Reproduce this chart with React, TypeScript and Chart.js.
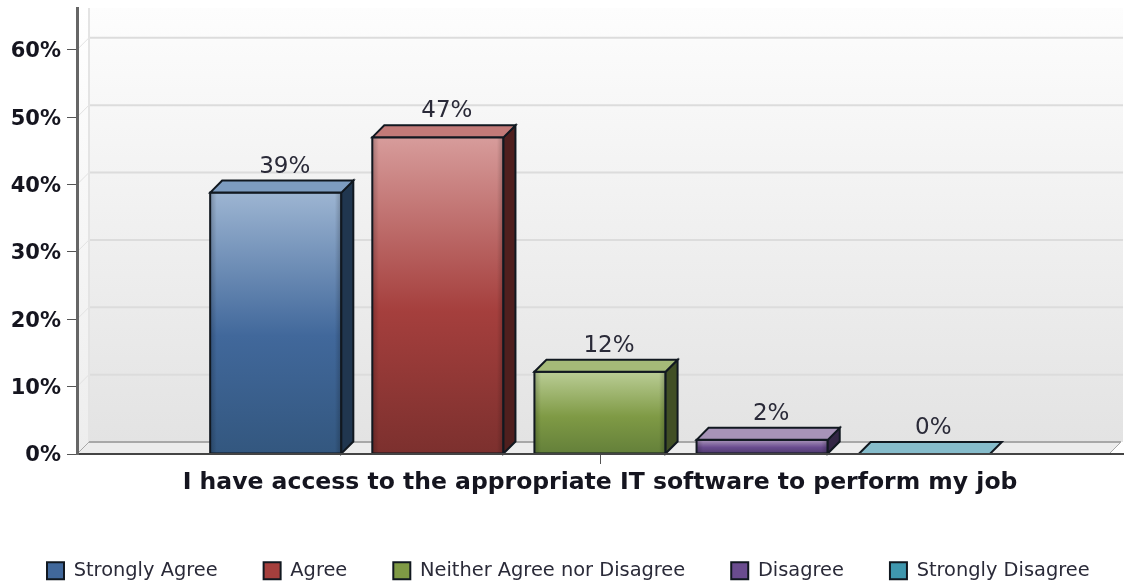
import React, { useEffect, useRef } from "react";
import { Chart, registerables } from "chart.js";

Chart.register(...registerables);

const categories = ["I have access to the appropriate IT software to perform my job"];
const seriesNames = ["Strongly Agree", "Agree", "Neither Agree nor Disagree", "Disagree", "Strongly Disagree"];
const seriesValues = [38.8, 47, 12.2, 2.1, 0];
const shownLabels = ["39%", "47%", "12%", "2%", "0%"];
const yTicksMax = 66.2;
const baseColors = ["#41689b", "#a53f3d", "#7f9a45", "#6a4c8f", "#3f97ae"];
const topColors = ["#9db5d2", "#d79c9b", "#bacd95", "#ab96bb", "#88bccb"];
const lidColors = ["#7d9cc0", "#c27a78", "#a5ba78", "#a793b8", "#86bccb"];
const bottomColors = ["#33577f", "#7c302e", "#64803a", "#4f3a6e", "#2f7488"];
const sideColors = ["#20364f", "#4f1f1e", "#414f25", "#332645", "#2a5a68"];

const DX = 12;
const DY = 12;

const legendRow = {
  id: "legendRow",
  beforeLayout(chart: any) {
    const legend = chart.legend;
    if (!legend || legend.__patched) return;
    legend.__patched = true;
    const fit = legend.fit;
    legend.fit = function () {
      const m = this.maxWidth;
      this.maxWidth = 1600;
      fit.call(this);
      this.maxWidth = m;
      this.width = m;
      this.height = 30;
    };
  },
  afterLayout(chart: any) {
    const legend = chart.legend;
    const pad = legend.options.labels.padding;
    legend.left = 47 - pad;
    legend.right = 1600;
    legend.top = 561 - pad;
  },
};

const faces3d = {
  id: "faces3d",
  beforeDatasetsDraw(chart: any) {
    const { ctx, chartArea: a, scales } = chart;
    const y = scales.y;
    const floorY = a.bottom - DY;
    ctx.save();
    const wall = ctx.createLinearGradient(0, a.top, 0, floorY);
    wall.addColorStop(0, "#fdfdfd");
    wall.addColorStop(1, "#e3e3e3");
    ctx.fillStyle = wall;
    ctx.fillRect(a.left + DX, a.top, a.right - a.left - DX, floorY - a.top);
    const side = ctx.createLinearGradient(0, a.top, 0, a.bottom);
    side.addColorStop(0, "#ffffff");
    side.addColorStop(1, "#ededed");
    ctx.fillStyle = side;
    ctx.beginPath();
    ctx.moveTo(a.left, a.top);
    ctx.lineTo(a.left + DX, a.top);
    ctx.lineTo(a.left + DX, floorY);
    ctx.lineTo(a.left, a.bottom);
    ctx.closePath();
    ctx.fill();
    ctx.fillStyle = "#ececec";
    ctx.beginPath();
    ctx.moveTo(a.left, a.bottom);
    ctx.lineTo(a.left + DX, floorY);
    ctx.lineTo(a.right - 2, floorY);
    ctx.lineTo(a.right - 2 - DX, a.bottom);
    ctx.closePath();
    ctx.fill();
    ctx.lineWidth = 2;
    y.ticks.forEach((t: any) => {
      if (t.value === 0) return;
      const py = y.getPixelForValue(t.value);
      ctx.strokeStyle = "#dcdcdc";
      ctx.beginPath();
      ctx.moveTo(a.left + DX, py - DY);
      ctx.lineTo(a.right, py - DY);
      ctx.stroke();
      ctx.lineWidth = 1;
      ctx.strokeStyle = "#e2e2e2";
      ctx.beginPath();
      ctx.moveTo(a.left, py);
      ctx.lineTo(a.left + DX, py - DY);
      ctx.stroke();
      ctx.lineWidth = 2;
    });
    ctx.strokeStyle = "#e4e4e4";
    ctx.beginPath();
    ctx.moveTo(a.left + DX, a.top);
    ctx.lineTo(a.left + DX, floorY);
    ctx.stroke();
    ctx.strokeStyle = "#a8a8a8";
    ctx.beginPath();
    ctx.moveTo(a.left + DX, floorY);
    ctx.lineTo(a.right - 2, floorY);
    ctx.stroke();
    ctx.lineWidth = 1;
    ctx.beginPath();
    ctx.moveTo(a.left, a.bottom);
    ctx.lineTo(a.left + DX, floorY);
    ctx.stroke();
    ctx.beginPath();
    ctx.moveTo(a.right - 2, floorY);
    ctx.lineTo(a.right - 2 - DX, a.bottom);
    ctx.stroke();
    ctx.restore();
  },
  afterDatasetsDraw(chart: any) {
    const { ctx } = chart;
    ctx.save();
    chart.data.datasets.forEach((_: any, i: number) => {
      const bar = chart.getDatasetMeta(i).data[0];
      const p = bar.getProps(["x", "y", "base", "width"], true);
      const l = p.x - p.width / 2;
      const r = p.x + p.width / 2;
      const top = p.y;
      const bot = p.base;
      ctx.lineJoin = "miter";
      ctx.lineWidth = 2;
      ctx.strokeStyle = "#111820";
      if (bot - top > 1) {
        const g = ctx.createLinearGradient(0, top, 0, bot);
        g.addColorStop(0, topColors[i]);
        g.addColorStop(0.55, baseColors[i]);
        g.addColorStop(1, bottomColors[i]);
        ctx.fillStyle = g;
        ctx.fillRect(l, top, r - l, bot - top);
        const e = ctx.createLinearGradient(l, 0, r, 0);
        e.addColorStop(0, "rgba(0,0,0,0.22)");
        e.addColorStop(0.05, "rgba(0,0,0,0)");
        e.addColorStop(0.95, "rgba(0,0,0,0)");
        e.addColorStop(1, "rgba(0,0,0,0.22)");
        ctx.fillStyle = e;
        ctx.fillRect(l, top, r - l, bot - top);
        ctx.strokeRect(l, top, r - l, bot - top);
        ctx.fillStyle = sideColors[i];
        ctx.beginPath();
        ctx.moveTo(r, top);
        ctx.lineTo(r + DX, top - DY);
        ctx.lineTo(r + DX, bot - DY);
        ctx.lineTo(r, bot);
        ctx.closePath();
        ctx.fill();
        ctx.stroke();
      }
      ctx.fillStyle = lidColors[i];
      ctx.beginPath();
      ctx.moveTo(l, top);
      ctx.lineTo(l + DX, top - DY);
      ctx.lineTo(r + DX, top - DY);
      ctx.lineTo(r, top);
      ctx.closePath();
      ctx.fill();
      if (bot - top > 1) {
        ctx.stroke();
      } else {
        ctx.beginPath();
        ctx.moveTo(l, top);
        ctx.lineTo(l + DX, top - DY);
        ctx.lineTo(r + DX, top - DY);
        ctx.lineTo(r, top);
        ctx.stroke();
      }
      ctx.fillStyle = "#2a2a38";
      ctx.font = '23px "DejaVu Sans"';
      ctx.textAlign = "center";
      ctx.textBaseline = "alphabetic";
      ctx.fillText(shownLabels[i], p.x + 9, top - DY - 8);
    });
    ctx.restore();
  },
};

export default function App() {
  const ref = useRef<HTMLCanvasElement>(null);
  useEffect(() => {
    const chart = new Chart(ref.current!, {
      type: "bar",
      data: {
        labels: categories,
        datasets: seriesNames.map((name, i) => ({
          label: name,
          data: [seriesValues[i]],
          backgroundColor: baseColors[i],
          borderColor: "#111820",
          borderWidth: 2,
          categoryPercentage: 0.775,
          barPercentage: 0.809,
        })),
      },
      options: {
        responsive: false,
        animation: false,
        layout: { padding: { top: 8, right: 2, left: 0, bottom: 2 } },
        plugins: {
          tooltip: { enabled: false },
          legend: {
            position: "bottom",
            align: "start",
            labels: {
              boxWidth: 17,
              boxHeight: 17,
              padding: 46,
              color: "#2a2a38",
              font: { family: '"DejaVu Sans"', size: 19.4 },
            },
          },
        },
        scales: {
          x: {
            afterFit(s: any) { s.height = 584 - 454 - 2 - 30; },
            border: { color: "#444", width: 2, z: 1 },
            grid: { drawOnChartArea: false, color: "#555", tickLength: 10, offset: false },
            ticks: {
              color: "#15151f",
              padding: 5,
              maxRotation: 0,
              font: { family: '"DejaVu Sans"', weight: "bold", size: 23.5 },
            },
          },
          y: {
            min: 0,
            max: yTicksMax,
            afterFit(s: any) { s.width = 77; s.paddingTop = 0; s.paddingBottom = 0; },
            afterBuildTicks(s: any) { s.ticks = s.ticks.filter((t: any) => t.value % 10 === 0); },
            border: { color: "#666", width: 3, z: 1 },
            grid: { drawOnChartArea: false, color: "#555", tickLength: 10 },
            ticks: {
              stepSize: 10,
              color: "#15151f",
              padding: 6,
              labelOffset: 2,
              callback: (v: any) => `${v}%`,
              font: { family: '"DejaVu Sans"', weight: "bold", size: 21 },
            },
          },
        },
      },
      plugins: [legendRow, faces3d],
    } as any);
    return () => chart.destroy();
  }, []);
  return (
    <canvas
      ref={ref}
      width={1125}
      height={584}
      style={{ position: "absolute", left: 0, top: 0, width: 1125, height: 584, filter: "blur(0.5px)" }}
    />
  );
}
